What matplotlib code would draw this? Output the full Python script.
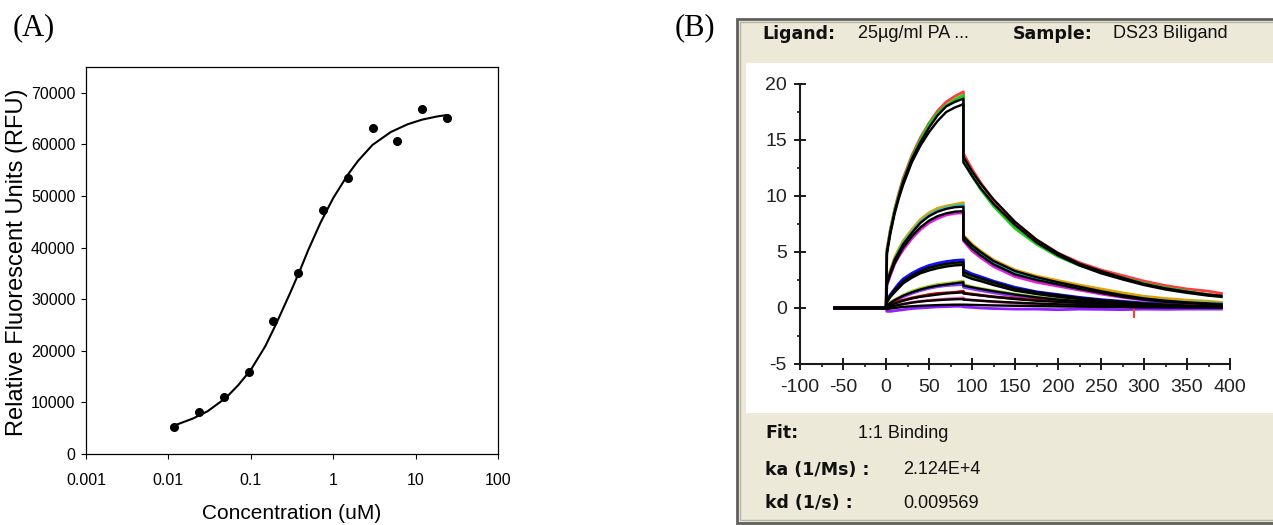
import matplotlib
matplotlib.use("Agg")
from matplotlib import pyplot as plt
from matplotlib.patches import Rectangle
from matplotlib.ticker import MultipleLocator, NullLocator

plt.rcParams["axes.unicode_minus"] = False

W, H = 1273, 525

# ---- panel A: dose response ----
conc_um = [0.0117, 0.0234, 0.0469, 0.094, 0.1875, 0.375, 0.75, 1.5, 3.0, 6.0, 12.0, 24.0]
rfu = [5150, 8050, 10950, 15850, 25700, 35150, 47250, 53500, 63200, 60600, 66900, 65150]
fit_conc = [0.0117, 0.02, 0.03, 0.05, 0.07, 0.1, 0.15, 0.2, 0.3, 0.4, 0.5, 0.7,
            1.0, 1.5, 2.0, 3.0, 5.0, 8.0, 12.0, 18.0, 24.0]
fit_rfu = [5500, 6900, 8300, 10900, 13300, 16300, 20900, 25000, 31200, 35800, 39600, 44800,
           49600, 54100, 56800, 59900, 62400, 63900, 64800, 65400, 65700]
a_xticks = [0.001, 0.01, 0.1, 1, 10, 100]
a_xlabels = ["0.001", "0.01", "0.1", "1", "10", "100"]
a_yticks = [0, 10000, 20000, 30000, 40000, 50000, 60000, 70000]

# ---- panel B: sensorgrams (time in s, response) ----
t_s = [-60, 0, 1, 5, 10, 15, 20, 30, 40, 50, 60, 70, 80, 90,
       90, 100, 110, 125, 150, 175, 200, 225, 250, 275, 300, 325, 350, 375, 390]

red1 = [0, 0, 5.2, 7.0, 8.8, 10.3, 11.6, 13.6, 15.2, 16.5, 17.6, 18.4, 18.9, 19.3,
        13.8, 12.4, 11.2, 9.6, 7.6, 6.1, 4.9, 4.05, 3.4, 2.9, 2.4, 2.0, 1.7, 1.5, 1.3]
green1 = [0, 0, 5.0, 6.9, 8.7, 10.1, 11.4, 13.4, 15.0, 16.4, 17.4, 18.1, 18.6, 19.0,
          13.2, 11.8, 10.6, 9.1, 7.1, 5.7, 4.6, 3.8, 3.2, 2.7, 2.2, 1.8, 1.5, 1.2, 1.0]
fit1a = [0, 0, 5.0, 6.8, 8.6, 10.0, 11.3, 13.3, 14.8, 16.1, 17.2, 18.0, 18.4, 18.7,
         13.5, 12.2, 11.1, 9.7, 7.7, 6.1, 4.9, 3.95, 3.3, 2.7, 2.15, 1.75, 1.45, 1.2, 1.1]
fit1b = [0, 0, 4.8, 6.6, 8.4, 9.8, 11.0, 13.0, 14.5, 15.7, 16.7, 17.5, 17.9, 18.2,
         13.0, 11.8, 10.7, 9.3, 7.4, 5.85, 4.7, 3.8, 3.1, 2.55, 2.05, 1.65, 1.35, 1.1, 1.0]

orange2 = [0, 0, 2.4, 3.4, 4.5, 5.3, 6.0, 7.0, 7.9, 8.5, 8.9, 9.1, 9.25, 9.4,
           6.5, 5.7, 5.1, 4.3, 3.4, 2.85, 2.45, 2.05, 1.7, 1.35, 1.05, 0.85, 0.7, 0.6, 0.5]
cyan2 = [0, 0, 2.2, 3.2, 4.3, 5.1, 5.8, 6.8, 7.7, 8.3, 8.7, 8.95, 9.1, 9.2,
         6.3, 5.4, 4.8, 4.0, 3.1, 2.6, 2.2, 1.8, 1.4, 1.1, 0.85, 0.65, 0.5, 0.45, 0.4]
magenta2 = [0, 0, 2.0, 2.9, 3.9, 4.6, 5.2, 6.2, 7.0, 7.6, 8.0, 8.3, 8.45, 8.5,
            6.0, 5.1, 4.5, 3.7, 2.8, 2.3, 1.95, 1.6, 1.25, 0.95, 0.7, 0.5, 0.4, 0.3, 0.25]
fit2a = [0, 0, 2.3, 3.2, 4.3, 5.0, 5.7, 6.7, 7.6, 8.2, 8.6, 8.85, 9.0, 9.05,
         6.4, 5.6, 5.0, 4.2, 3.3, 2.75, 2.3, 1.9, 1.5, 1.15, 0.85, 0.65, 0.5, 0.4, 0.35]
fit2b = [0, 0, 2.1, 3.0, 4.0, 4.7, 5.4, 6.4, 7.2, 7.8, 8.2, 8.45, 8.6, 8.65,
         6.1, 5.3, 4.7, 3.9, 3.0, 2.5, 2.1, 1.7, 1.35, 1.0, 0.75, 0.55, 0.45, 0.35, 0.3]

blue3 = [0, 0, 0.7, 1.2, 1.7, 2.2, 2.6, 3.1, 3.5, 3.8, 4.0, 4.15, 4.25, 4.3,
         3.4, 3.05, 2.8, 2.4, 1.85, 1.45, 1.2, 0.95, 0.75, 0.6, 0.45, 0.35, 0.25, 0.2, 0.15]
green3 = [0, 0, 0.6, 1.0, 1.5, 1.9, 2.3, 2.8, 3.2, 3.5, 3.7, 3.85, 3.95, 4.0,
          3.0, 2.7, 2.5, 2.15, 1.65, 1.3, 1.05, 0.85, 0.65, 0.5, 0.38, 0.28, 0.2, 0.14, 0.1]
fit3a = [0, 0, 0.6, 1.1, 1.6, 2.0, 2.4, 2.9, 3.3, 3.6, 3.8, 3.95, 4.05, 4.1,
         3.2, 2.9, 2.65, 2.3, 1.75, 1.4, 1.15, 0.9, 0.7, 0.55, 0.4, 0.3, 0.2, 0.15, 0.1]
fit3b = [0, 0, 0.5, 1.0, 1.4, 1.8, 2.2, 2.7, 3.1, 3.35, 3.55, 3.7, 3.8, 3.85,
         2.9, 2.6, 2.4, 2.05, 1.55, 1.25, 1.0, 0.8, 0.6, 0.45, 0.35, 0.25, 0.18, 0.12, 0.1]

lime4 = [0, 0, 0.25, 0.5, 0.75, 0.95, 1.15, 1.5, 1.75, 1.95, 2.1, 2.2, 2.3, 2.4,
         2.1, 1.9, 1.75, 1.55, 1.25, 1.0, 0.8, 0.65, 0.52, 0.42, 0.32, 0.25, 0.18, 0.14, 0.1]
purple4 = [0, 0, 0.1, 0.35, 0.6, 0.8, 1.0, 1.3, 1.55, 1.75, 1.9, 2.0, 2.05, 2.1,
           1.85, 1.7, 1.55, 1.35, 1.05, 0.85, 0.65, 0.5, 0.4, 0.3, 0.2, 0.15, 0.1, 0.05, 0.05]
fit4 = [0, 0, 0.2, 0.45, 0.7, 0.9, 1.1, 1.4, 1.65, 1.85, 2.0, 2.1, 2.2, 2.3,
        2.0, 1.85, 1.7, 1.5, 1.2, 0.95, 0.75, 0.62, 0.5, 0.4, 0.3, 0.22, 0.16, 0.12, 0.1]

darkred5 = [0, 0, 0.15, 0.3, 0.45, 0.6, 0.7, 0.9, 1.05, 1.2, 1.3, 1.35, 1.4, 1.5,
            1.35, 1.25, 1.15, 1.0, 0.85, 0.7, 0.6, 0.5, 0.4, 0.35, 0.3, 0.25, 0.2, 0.15, 0.1]
fit5 = [0, 0, 0.1, 0.25, 0.4, 0.52, 0.65, 0.85, 1.0, 1.1, 1.2, 1.3, 1.35, 1.4,
        1.3, 1.2, 1.12, 1.0, 0.8, 0.65, 0.55, 0.45, 0.35, 0.3, 0.25, 0.2, 0.15, 0.12, 0.1]

pink6 = [0, 0, -0.1, 0.05, 0.15, 0.25, 0.35, 0.5, 0.6, 0.68, 0.75, 0.8, 0.85, 0.9,
         0.8, 0.72, 0.65, 0.55, 0.45, 0.35, 0.3, 0.25, 0.2, 0.2, 0.15, 0.1, 0.1, 0.05, 0.05]
fit6 = [0, 0, 0.0, 0.1, 0.2, 0.28, 0.35, 0.48, 0.58, 0.65, 0.7, 0.75, 0.78, 0.8,
        0.75, 0.7, 0.65, 0.58, 0.48, 0.4, 0.33, 0.28, 0.23, 0.19, 0.16, 0.13, 0.1, 0.08, 0.07]

purple7 = [0, 0, -0.3, -0.3, -0.25, -0.2, -0.15, -0.05, 0.0, 0.05, 0.1, 0.12, 0.15, 0.15,
           0.1, 0.05, 0.0, -0.05, -0.1, -0.1, -0.15, -0.1, -0.12, -0.15, -0.1, -0.12, -0.1, -0.1, -0.1]
fit7 = [0, 0, -0.1, -0.05, 0.0, 0.05, 0.1, 0.15, 0.2, 0.23, 0.26, 0.28, 0.3, 0.3,
        0.3, 0.28, 0.26, 0.23, 0.2, 0.17, 0.14, 0.12, 0.1, 0.08, 0.06, 0.05, 0.04, 0.03, 0.02]

# red spike seen in the dissociation phase
spike_t = [288, 288]
spike_y = [0.0, -0.8]

raw_traces = [(red1, "#ff3b3b"), (green1, "#1ad11a"),
              (orange2, "#e0a000"), (cyan2, "#20c8d8"), (magenta2, "#e020e0"),
              (blue3, "#1010ff"), (green3, "#108a10"),
              (lime4, "#9acd32"), (purple4, "#8a3cff"),
              (darkred5, "#c00000"), (pink6, "#ff50b0"), (purple7, "#9020ff")]
fit_traces = [fit1a, fit1b, fit2a, fit2b, fit3a, fit3b, fit4, fit5, fit6, fit7]

b_xticks = list(range(-100, 401, 50))
b_yticks = [-5, 0, 5, 10, 15, 20]

header_left = ("Ligand:", "25\u00b5g/ml PA ...")
header_right = ("Sample:", "DS23 Biligand")
footer_rows = [("Fit:", "1:1 Binding", 858), ("ka (1/Ms) :", "2.124E+4", 903),
               ("kd (1/s) :", "0.009569", 903)]

sans = ["Liberation Sans", "DejaVu Sans"]
bold = ["DejaVu Sans"]


def fx(px):
    return px / W


def fy(py):
    return 1 - py / H


fig = plt.figure(figsize=(W / 100, H / 100), dpi=100)

# ---------- panel A ----------
ax_a = fig.add_axes([fx(86), fy(454), fx(498) - fx(86), fy(67) - fy(454)])
ax_a.plot(fit_conc, fit_rfu, color="black", lw=1.5)
ax_a.plot(conc_um, rfu, "o", color="black", ms=5.5)
ax_a.set_xscale("log")
ax_a.set_xlim(0.001, 100)
ax_a.set_ylim(0, 75000)
ax_a.set_xticks(a_xticks)
ax_a.set_xticklabels(a_xlabels)
ax_a.xaxis.set_minor_locator(NullLocator())
ax_a.set_yticks(a_yticks)
ax_a.set_yticklabels([str(v) for v in a_yticks])
ax_a.tick_params(axis="both", direction="out", length=3.5, width=0.8, colors="black")
ax_a.tick_params(axis="x", pad=10)
ax_a.tick_params(axis="y", pad=4)
for lab in ax_a.get_xticklabels() + ax_a.get_yticklabels():
    lab.set_fontfamily(sans)
    lab.set_fontsize(11.5)
for sp in ax_a.spines.values():
    sp.set_linewidth(0.9)
fig.text(fx(17), fy(262), "Relative Fluorescent Units (RFU)", rotation=90,
         ha="center", va="center", fontsize=17, family=sans)
fig.text(fx(292), fy(519), "Concentration (uM)", ha="center", va="baseline",
         fontsize=15, family=sans)

fig.text(fx(13), fy(13), "(A)", ha="left", va="top", fontsize=22,
         family=["Liberation Serif", "DejaVu Serif"])
fig.text(fx(675), fy(13), "(B)", ha="left", va="top", fontsize=22,
         family=["Liberation Serif", "DejaVu Serif"])

# ---------- panel B: window frame ----------
fig.patches.append(Rectangle((fx(737), fy(523)), fx(W + 10) - fx(737), fy(19) - fy(523),
                             transform=fig.transFigure, facecolor="#ece9d8",
                             edgecolor="#5f5f5f", lw=2.0, zorder=0))
fig.patches.append(Rectangle((fx(740), fy(520)), fx(W + 10) - fx(740), fy(22) - fy(520),
                             transform=fig.transFigure, facecolor="none",
                             edgecolor="#b8b4a4", lw=1.0, zorder=0))
fig.patches.append(Rectangle((fx(746), fy(413)), fx(W + 10) - fx(746), fy(63) - fy(413),
                             transform=fig.transFigure, facecolor="white",
                             edgecolor="none", zorder=0))

fig.text(fx(762), fy(34), header_left[0], ha="left", va="center", fontsize=12.5,
         fontweight="bold", family=bold, color="#111111")
fig.text(fx(858), fy(34), header_left[1], ha="left", va="center", fontsize=13,
         family=sans, color="#111111")
fig.text(fx(1013), fy(34), header_right[0], ha="left", va="center", fontsize=12.5,
         fontweight="bold", family=bold, color="#111111")
fig.text(fx(1113), fy(34), header_right[1], ha="left", va="center", fontsize=13,
         family=sans, color="#111111")

for (label, value, vx), ypix in zip(footer_rows, [433, 470, 503]):
    fig.text(fx(765), fy(ypix), label, ha="left", va="center", fontsize=12.5,
             fontweight="bold", family=bold, color="#111111")
    fig.text(fx(vx), fy(ypix), value, ha="left", va="center", fontsize=13,
             family=sans, color="#111111")

# ---------- panel B: sensorgram axes ----------
ax_b = fig.add_axes([fx(800), fy(364), fx(1230) - fx(800), fy(84) - fy(364)])
ax_b.set_zorder(5)
ax_b.patch.set_alpha(0)
for values, col in raw_traces:
    ax_b.plot(t_s, values, color=col, lw=2.0, solid_joinstyle="round")
ax_b.plot(spike_t, spike_y, color="#ff3b3b", lw=1.5)
for values in fit_traces:
    ax_b.plot(t_s, values, color="black", lw=1.7, solid_joinstyle="round")
ax_b.set_xlim(-100, 400)
ax_b.set_ylim(-5, 20)
ax_b.set_xticks(b_xticks)
ax_b.set_yticks(b_yticks)
ax_b.xaxis.set_minor_locator(MultipleLocator(25))
ax_b.yaxis.set_minor_locator(MultipleLocator(2.5))
ax_b.spines["top"].set_visible(False)
ax_b.spines["right"].set_visible(False)
ax_b.spines["left"].set_linewidth(1.5)
ax_b.spines["bottom"].set_linewidth(1.5)
ax_b.spines["left"].set_color("#1a1a1a")
ax_b.spines["bottom"].set_color("#1a1a1a")
ax_b.tick_params(which="major", direction="inout", length=9, width=1.4,
                 colors="#1a1a1a", labelsize=14)
ax_b.tick_params(which="minor", direction="out", length=2.5, width=1.2, colors="#1a1a1a")
ax_b.tick_params(axis="x", which="major", pad=6)
ax_b.tick_params(axis="y", which="major", pad=5)
for lab in ax_b.get_xticklabels() + ax_b.get_yticklabels():
    lab.set_fontfamily(sans)
    lab.set_color("#222222")

fig.savefig("out.png", dpi=100)
